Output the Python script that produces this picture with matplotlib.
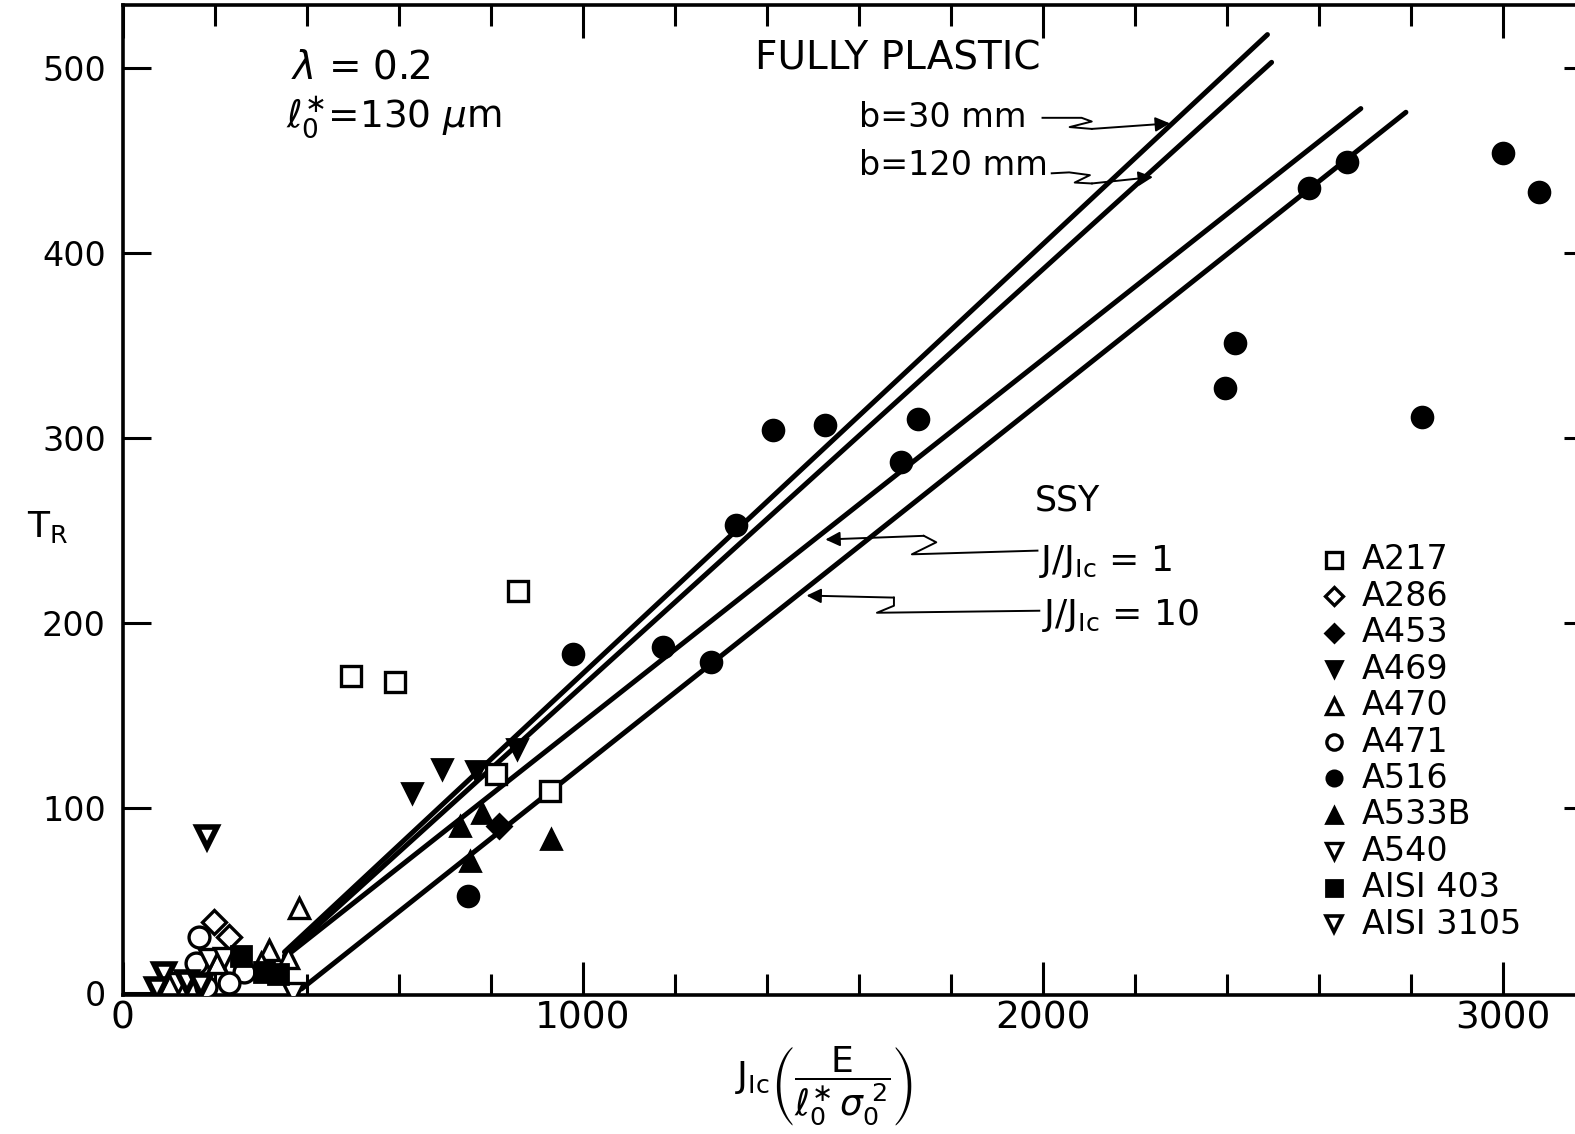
import matplotlib
matplotlib.use('Agg')
import matplotlib.pyplot as plt
import numpy as np

plt.rcParams['font.family'] = ['DejaVu Sans']
plt.rcParams['mathtext.fontset'] = 'dejavusans'

# ---- datos: J_Ic normalizado vs T_R ----
a217_x = [496, 592, 860, 812, 930]
a217_y = [171, 168, 217, 118, 109]
a286_x = [198, 231]
a286_y = [38, 30]
a453_x = [819]
a453_y = [90]
a469_x = [629, 694, 769, 858]
a469_y = [108, 121, 120, 132]
a470_x = [384, 319, 360, 301, 205]
a470_y = [46, 23, 19, 16, 16]
a471_x = [166, 159, 264, 231, 181]
a471_y = [30, 16, 11, 5, 3]
a516_x = [751, 980, 1175, 1279, 1334, 1415, 1528, 1692, 1729,
          2397, 2419, 2579, 2662, 2825, 3000, 3079]
a516_y = [52, 183, 187, 179, 253, 304, 307, 287, 310,
          327, 351, 435, 449, 311, 454, 433]
a533b_x = [734, 782, 755, 932]
a533b_y = [90, 97, 71, 83]
a540_x = [188, 221, 371, 120]
a540_y = [18, 19, 0, 5]
aisi403_x = [258, 308, 338]
aisi403_y = [20, 11, 10]
aisi3105_x = [183, 90, 75, 140, 170]
aisi3105_y = [84, 10, 2, 6, 4]

# rectas teoricas (fully plastic b=30, b=120; SSY J/JIc=1, 10)
fp30_x, fp30_y = [352, 2489], [22, 518]
fp120_x, fp120_y = [352, 2498], [20, 503]
ssy1_x, ssy1_y = [352, 2692], [19, 478]
ssy10_x, ssy10_y = [389, 2790], [2, 476]

legend_labels = ['A217', 'A286', 'A453', 'A469', 'A470', 'A471',
                 'A516', 'A533B', 'A540', 'AISI 403', 'AISI 3105']

# (x, y, marker, relleno, grosor borde)
series = [
    (a217_x, a217_y, 's', False, 2.4),
    (a286_x, a286_y, 'D', False, 2.4),
    (a453_x, a453_y, 'D', True, 2.0),
    (a469_x, a469_y, 'v', True, 2.0),
    (a470_x, a470_y, '^', False, 2.4),
    (a471_x, a471_y, 'o', False, 2.4),
    (a516_x, a516_y, 'o', True, 2.0),
    (a533b_x, a533b_y, '^', True, 2.0),
    (a540_x, a540_y, 'v', False, 2.4),
    (aisi403_x, aisi403_y, 's', True, 2.0),
    (aisi3105_x, aisi3105_y, 'v', False, 4.0),
]

fig = plt.figure(figsize=(15.75, 11.34), dpi=100)
ax = fig.add_axes([0.0778, 0.123, 0.9267, 0.8726])
ax.set_xlim(0, 3173)
ax.set_ylim(-1, 534)

for lx, ly in [(fp30_x, fp30_y), (fp120_x, fp120_y),
               (ssy1_x, ssy1_y), (ssy10_x, ssy10_y)]:
    ax.plot(lx, ly, color='black', lw=3.6, solid_capstyle='round', zorder=2)

for (sx, sy, mk, filled, mew) in series:
    ms = 15 if mk != 'D' else 12
    ax.plot(sx, sy, linestyle='none', marker=mk, ms=ms,
            mfc='black' if filled else 'white', mec='black', mew=mew,
            zorder=3)

# leyenda dibujada a mano
ly0 = np.linspace(234, 37, len(legend_labels))
for (sx, sy, mk, filled, mew), lab, yy in zip(series, legend_labels, ly0):
    ms = 11 if mk != 'D' else 9
    ax.plot([2633], [yy], linestyle='none', marker=mk, ms=ms,
            mfc='black' if filled else 'white', mec='black',
            mew=min(mew, 2.6), zorder=3, clip_on=False)
    ax.text(2694, yy, lab, fontsize=24, va='center', ha='left')

# textos
ax.text(367, 500, r'$\lambda$ = 0.2', fontsize=28, va='center')
ax.text(356, 473, r'$\ell_0^{\ast}$=130 $\mu$m', fontsize=27, va='center')
ax.text(1376, 505, 'FULLY PLASTIC', fontsize=28, va='center')
ax.text(1600, 473, 'b=30 mm', fontsize=24, va='center')
ax.text(1600, 447, 'b=120 mm', fontsize=24, va='center')
ax.text(1983, 266, 'SSY', fontsize=25, va='center')
ax.text(1993, 233, r'J/J$_{\mathrm{Ic}}$ = 1', fontsize=26, va='center')
ax.text(1998, 204, r'J/J$_{\mathrm{Ic}}$ = 10', fontsize=26, va='center')

# flechas onduladas
squiggles = [
    ([2000, 2085, 2107, 2059, 2107, 2277], [473, 473, 471, 468, 467, 470]),
    ([2020, 2058, 2103, 2070, 2107, 2240], [443, 443.5, 442, 438, 437.5, 441]),
    ([1989, 1716, 1769, 1742, 1528], [239, 237, 243.5, 247, 245]),
    ([1993, 1640, 1677, 1677, 1487], [206.5, 205.4, 209.2, 213.6, 214.7]),
]
for qx, qy in squiggles:
    ax.plot(qx[:-1], qy[:-1], color='black', lw=1.4, zorder=2)
    ax.annotate('', xy=(qx[-1], qy[-1]), xytext=(qx[-2], qy[-2]),
                arrowprops=dict(arrowstyle='-|>', color='black', lw=1.4,
                                mutation_scale=22, shrinkA=0, shrinkB=0))

# ejes
for sp in ax.spines.values():
    sp.set_linewidth(2.6)
ax.set_xticks([0, 1000, 2000, 3000])
ax.set_xticks(np.arange(0, 3200, 200), minor=True)
ax.set_yticks([0, 100, 200, 300, 400, 500])
ax.tick_params(axis='x', which='major', direction='in', length=24, width=2.2,
               top=True, pad=4, labelsize=27)
ax.tick_params(axis='x', which='minor', direction='in', length=15, width=2.2,
               top=True)
ax.tick_params(axis='y', which='major', direction='in', length=20, width=2.2,
               pad=12, labelsize=24)

ax2 = ax.twinx()
ax2.set_ylim(ax.get_ylim())
ax2.set_yticks([100, 200, 300, 400, 500])
ax2.tick_params(axis='y', direction='in', length=13, width=2.2, labelright=False)
for sp in ax2.spines.values():
    sp.set_visible(False)

fig.text(0.030, 0.535, r'T$_\mathrm{R}$', fontsize=26, va='center', ha='center')
fig.text(0.523, 0.042,
         r'$\mathrm{J_{Ic}}\left(\dfrac{\mathrm{E}}{\ell_0^{\ast}\,\sigma_0^{\;2}}\right)$',
         fontsize=26, ha='center', va='center')

fig.savefig('out.png', dpi=100)
